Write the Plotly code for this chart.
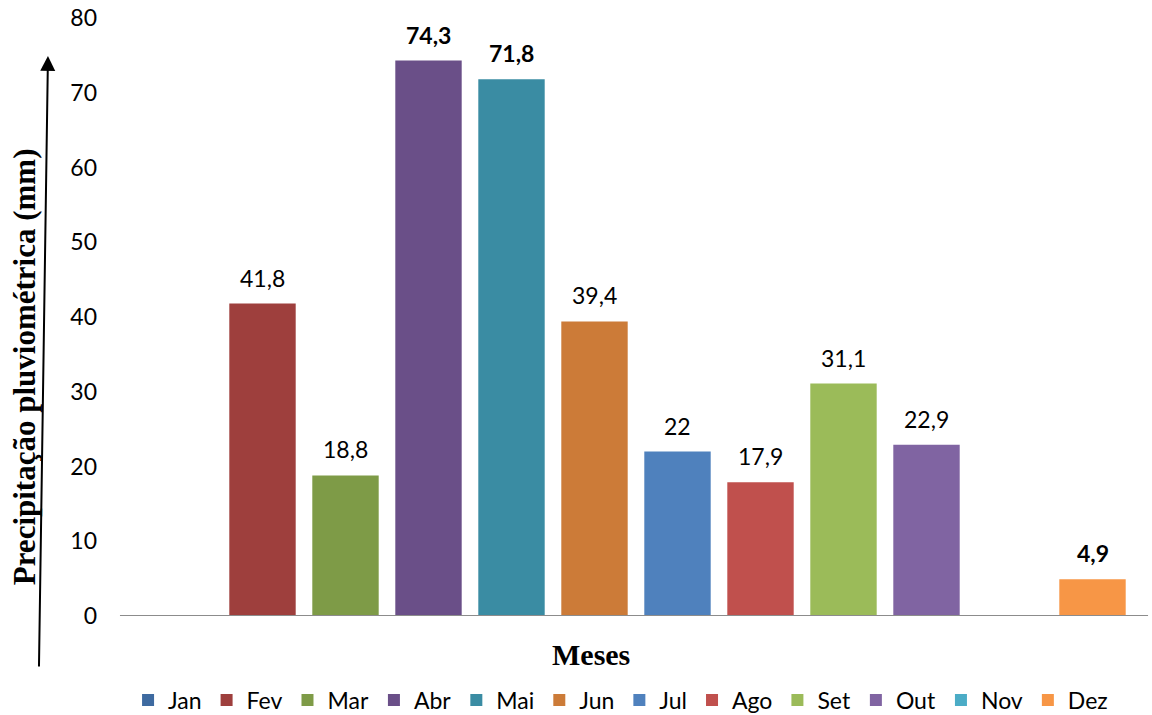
import plotly.graph_objects as go

# Monthly rainfall (mm); Jan and Nov have no recorded value
months = ["Jan", "Fev", "Mar", "Abr", "Mai", "Jun", "Jul", "Ago", "Set", "Out", "Nov", "Dez"]
rain_mm = [None, 41.8, 18.8, 74.3, 71.8, 39.4, 22.0, 17.9, 31.1, 22.9, None, 4.9]
value_labels = ["", "41,8", "18,8", "74,3", "71,8", "39,4", "22", "17,9", "31,1", "22,9", "", "4,9"]
bold_labels = {"Abr", "Mai", "Dez"}
bar_colors = ["#3E6AA0", "#9E3F3D", "#7E9B47", "#6A4F88", "#3A8CA3", "#CC7B38",
              "#4F81BD", "#C0504D", "#9BBB59", "#8064A2", "#4BACC6", "#F79646"]
y_ticks = [0, 10, 20, 30, 40, 50, 60, 70, 80]

SANS = "Lato"
SERIF = "Liberation Serif, Times New Roman, serif"

fig = go.Figure()
for m, v, c in zip(months, rain_mm, bar_colors):
    fig.add_trace(go.Bar(x=[m], y=[v], name=m, marker=dict(color=c, line=dict(width=0)),
                         hoverinfo="x+y"))

annotations = []
for m, v, lab in zip(months, rain_mm, value_labels):
    if v is None:
        continue
    txt = f"<b>{lab}</b>" if m in bold_labels else lab
    annotations.append(dict(x=m, y=v, xref="x", yref="y", text=txt, showarrow=False,
                            yanchor="bottom", yshift=10,
                            font=dict(family=SANS, size=23, color="#000000")))

# axis titles
annotations.append(dict(x=-0.114, y=0.4167, xref="paper", yref="paper",
                        text="<b>Precipitação pluviométrica (mm)</b>", textangle=-90,
                        showarrow=False, xanchor="center", yanchor="middle",
                        font=dict(family=SERIF, size=31, color="#000000")))
annotations.append(dict(x=0.455, y=-0.065, xref="paper", yref="paper",
                        text="<b>Meses</b>", showarrow=False, xanchor="center", yanchor="middle",
                        font=dict(family=SERIF, size=30, color="#000000")))
# arrow beside the value axis
annotations.append(dict(x=-0.0904, y=0.9365, xref="paper", yref="paper", text="",
                        showarrow=True, axref="pixel", ayref="pixel", ax=-9, ay=612,
                        arrowhead=2, arrowsize=1.5, arrowwidth=2, arrowcolor="#000000"))

fig.update_layout(
    width=1152, height=715,
    margin=dict(l=138, r=18, t=18, b=99, autoexpand=False),
    paper_bgcolor="#FFFFFF", plot_bgcolor="#FFFFFF",
    barmode="relative", bargap=0.2,
    showlegend=True,
    legend=dict(orientation="h", x=0.4845, xanchor="center", y=-0.1406, yanchor="middle",
                font=dict(family=SANS, size=23, color="#000000"),
                bgcolor="rgba(0,0,0,0)", traceorder="normal"),
    xaxis=dict(categoryorder="array", categoryarray=months, showticklabels=False,
               showline=False, showgrid=False, zeroline=False, ticks=""),
    yaxis=dict(range=[0, 80], tickvals=y_ticks, ticktext=[str(t) for t in y_ticks],
               showgrid=False, zeroline=False, showline=False, ticks="",
               ticklabelstandoff=40,
               tickfont=dict(family=SANS, size=23, color="#000000")),
    annotations=annotations,
    shapes=[dict(type="line", xref="paper", yref="y", x0=-0.0181, x1=1.0141, y0=0, y1=0,
                 line=dict(color="#8C8C8C", width=2), layer="above")],
)

fig.write_html("out.html")
